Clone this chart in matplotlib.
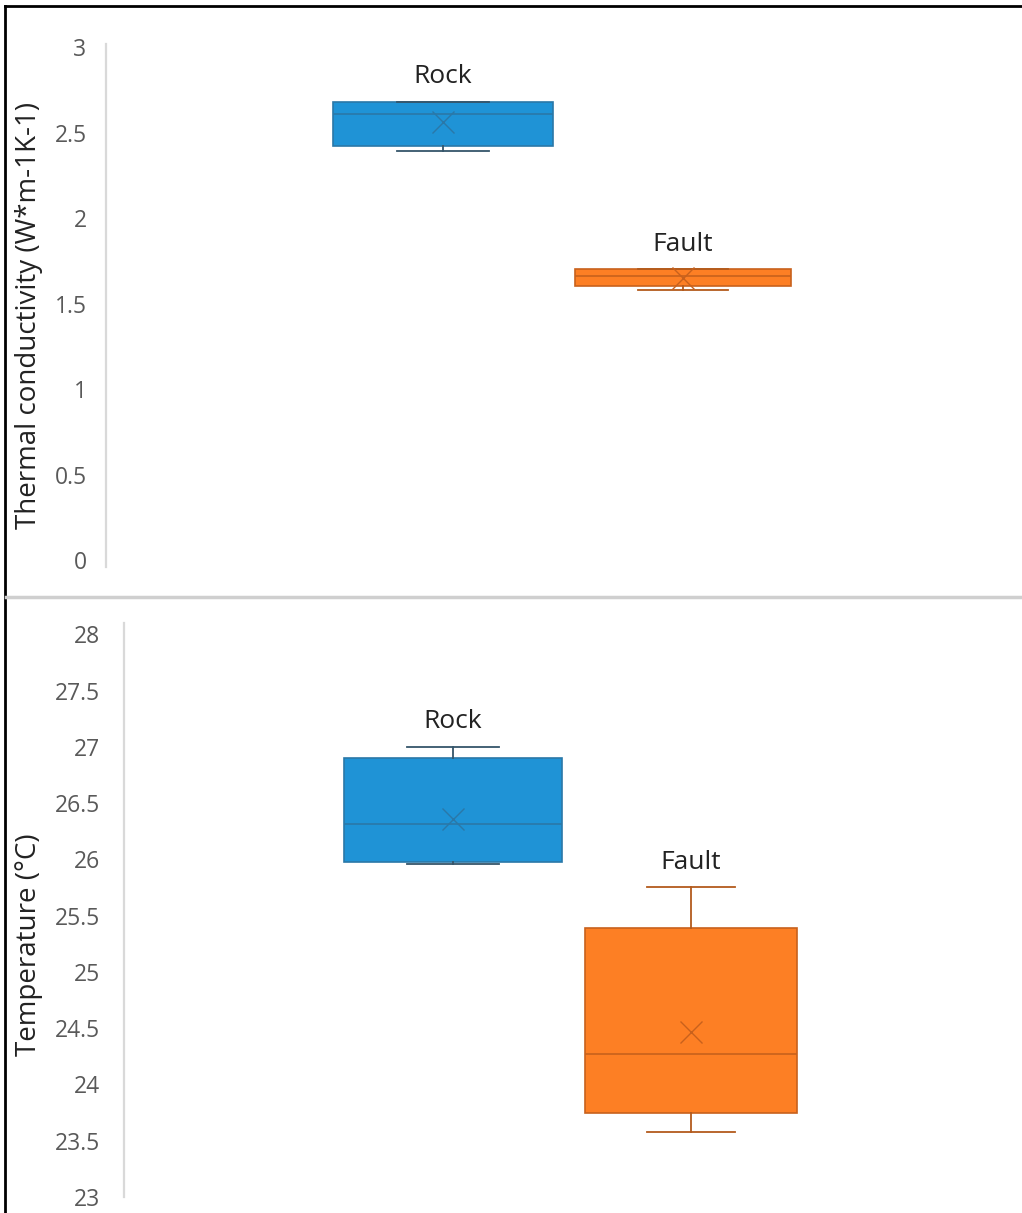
import matplotlib.pyplot as plt
from matplotlib.lines import Line2D

# box statistics
categories = ["Rock", "Fault"]

tc_whislo = [2.39, 1.58]
tc_q1 = [2.42, 1.60]
tc_med = [2.61, 1.66]
tc_mean = [2.56, 1.65]
tc_q3 = [2.68, 1.70]
tc_whishi = [2.68, 1.70]

temp_whislo = [25.96, 23.58]
temp_q1 = [25.98, 23.75]
temp_med = [26.31, 24.27]
temp_mean = [26.36, 24.47]
temp_q3 = [26.90, 25.39]
temp_whishi = [27.00, 25.75]

fills = ["#1f93d6", "#fd7f24"]
edges = ["#2a78a8", "#c8611c"]
dark = ["#35556a", "#b35a1c"]

W, H = 1022, 1213


def px_axes(left, top, right, bottom):
    return [left / W, 1 - bottom / H, (right - left) / W, (bottom - top) / H]


def draw_panel(ax, lo, q1, med, mean, q3, hi, widths):
    stats = []
    for i in range(len(categories)):
        stats.append(dict(label=categories[i], whislo=lo[i], q1=q1[i], med=med[i],
                          mean=mean[i], q3=q3[i], whishi=hi[i], fliers=[]))
    for i, st in enumerate(stats):
        ax.bxp([st], positions=[i + 1], widths=widths[i], patch_artist=True,
               showmeans=True, showfliers=False,
               boxprops=dict(facecolor=fills[i], edgecolor=edges[i], linewidth=1.2),
               medianprops=dict(color=edges[i], linewidth=1.2),
               whiskerprops=dict(color=dark[i], linewidth=1.3),
               capprops=dict(color=dark[i], linewidth=1.3),
               capwidths=widths[i] * 0.42,
               meanprops=dict(marker="x", markeredgecolor=edges[i], markersize=16,
                              markeredgewidth=1.0))
        ax.annotate(categories[i], (i + 1, hi[i]), xytext=(0, 9), textcoords="offset points",
                    ha="center", va="bottom", fontsize=19, color="#222222")
    for s in ["top", "right", "bottom"]:
        ax.spines[s].set_visible(False)
    ax.spines["left"].set_color("#d9d9d9")
    ax.spines["left"].set_linewidth(1.6)
    ax.set_xticks([])
    ax.tick_params(axis="y", length=0, labelsize=16.5, labelcolor="#595959")


plt.rcParams["font.family"] = ["Open Sans", "DejaVu Sans"]

fig = plt.figure(figsize=(W / 100, H / 100), dpi=100)

ax1 = fig.add_axes(px_axes(106, 43.6, 1015, 567))
draw_panel(ax1, tc_whislo, tc_q1, tc_med, tc_mean, tc_q3, tc_whishi, [0.92, 0.9])
ax1.set_ylim(-0.04, 3.02)
ax1.set_xlim(1 - 337 / 240, 1 + 909 / 240 - 337 / 240)
ax1.set_yticks([0, 0.5, 1, 1.5, 2, 2.5, 3])
ax1.set_yticklabels(["0", "0.5", "1", "1.5", "2", "2.5", "3"])
ax1.tick_params(axis="y", pad=14)
ax1.set_ylabel("Thermal conductivity (W*m-1K-1)", fontsize=20, color="#222222")
ax1.yaxis.set_label_coords(-0.069, 0.48)

ax2 = fig.add_axes(px_axes(124, 623, 1015, 1197))
draw_panel(ax2, temp_whislo, temp_q1, temp_med, temp_mean, temp_q3, temp_whishi, [0.92, 0.89])
ax2.set_ylim(23, 28.1)
ax2.set_xlim(1 - 329 / 238, 1 + 891 / 238 - 329 / 238)
ax2.set_yticks([23, 23.5, 24, 24.5, 25, 25.5, 26, 26.5, 27, 27.5, 28])
ax2.set_yticklabels(["23", "23.5", "24", "24.5", "25", "25.5", "26", "26.5", "27", "27.5", "28"])
ax2.tick_params(axis="y", pad=17)
ax2.set_ylabel("Temperature (°C)", fontsize=20, color="#222222")
ax2.yaxis.set_label_coords(-0.091, 0.44)

# frame lines of the original figure
fig.add_artist(Line2D([5 / W, 5 / W], [0, 1 - 6 / H], color="black", lw=2))
fig.add_artist(Line2D([5 / W, 1], [1 - 6 / H, 1 - 6 / H], color="black", lw=2))
fig.add_artist(Line2D([6 / W, 1], [1 - 597 / H, 1 - 597 / H], color="#cfcfcf", lw=2.5))

fig.savefig("out.png", dpi=100)
